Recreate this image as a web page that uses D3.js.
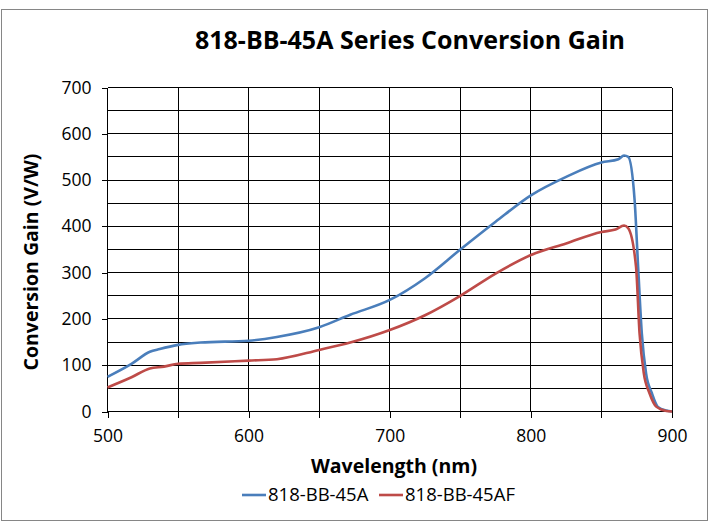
<!DOCTYPE html>
<html>
<head>
<meta charset="utf-8">
<script src="https://cdn.jsdelivr.net/npm/d3@7"></script>
<style>
  body { margin: 0; background: #fff; }
  text { font-family: "Open Sans", sans-serif; fill: #000; }
</style>
</head>
<body>
<div class="js-chart"></div>
<script>
// series 818-BB-45A
let waveA = [500, 517, 530, 537, 550, 566, 600, 620, 650, 672, 700, 725, 750, 775, 800, 825, 850, 862, 866, 869, 873.5, 876, 878.6, 881.6, 885.7, 890, 896, 900];
let gainA = [75, 103, 129, 135, 144, 149, 153, 161, 182, 209, 241, 288, 350, 410, 467, 507, 538, 545, 553, 550, 457, 312, 169, 83, 40, 10, 2, 0];
// series 818-BB-45AF
let waveAF = [500, 517, 530, 540, 550, 566, 600, 620, 650, 672, 700, 725, 750, 775, 800, 825, 850, 860, 866, 869, 874.5, 877, 880, 884, 889, 896, 900];
let gainAF = [52, 74, 93, 97, 103, 105, 110, 113, 133, 149, 176, 208, 250, 298, 338, 363, 388, 393, 402, 396, 313, 169, 83, 40, 10, 1, 0];

let xTicks = [500, 600, 700, 800, 900];
let yTicks = [0, 100, 200, 300, 400, 500, 600, 700];
let seriesNames = ['818-BB-45A', '818-BB-45AF'];
let colors = ['#4a7ebb', '#be4b48'];

function drawChart() {
  var width = 718, height = 522;
  var left = 107.5, right = 672, top = 87.5, bottom = 411.5;

  var svg = d3.select('.js-chart').append('svg')
    .attr('width', width)
    .attr('height', height);

  // outer frame
  svg.append('rect')
    .attr('x', 1.5).attr('y', 9.5)
    .attr('width', 706).attr('height', 511)
    .attr('fill', 'none')
    .attr('stroke', '#868686');

  var x = d3.scaleLinear().domain([500, 900]).range([left, right]);
  var y = d3.scaleLinear().domain([0, 700]).range([bottom, top]);

  // grid every 50
  var grid = svg.append('g').attr('stroke', '#000').attr('stroke-width', 1).attr('shape-rendering', 'crispEdges');
  grid.selectAll('.hg').data(d3.range(50, 701, 50)).enter().append('line')
    .attr('x1', left).attr('x2', right)
    .attr('y1', (d) => y(d)).attr('y2', (d) => y(d));
  grid.selectAll('.vg').data(d3.range(550, 901, 50)).enter().append('line')
    .attr('y1', top).attr('y2', bottom)
    .attr('x1', (d) => x(d)).attr('x2', (d) => x(d));

  // axes
  var xAxis = svg.append('g')
    .attr('transform', `translate(0,${bottom})`)
    .call(d3.axisBottom(x).tickValues(d3.range(500, 901, 50)).tickSize(6).tickFormat((d) => xTicks.includes(d) ? d : ''));
  var yAxis = svg.append('g')
    .attr('transform', `translate(${left},0)`)
    .call(d3.axisLeft(y).tickValues(yTicks).tickSize(6).tickPadding(10));
  [xAxis, yAxis].forEach((a) => {
    a.selectAll('path, line').attr('stroke', '#000').attr('shape-rendering', 'crispEdges');
    a.selectAll('text').style('font-size', '17.5px').style('font-family', '"Open Sans", sans-serif').attr('fill', '#000');
  });
  xAxis.select('.domain').attr('d', `M${left},0H${right}`);
  yAxis.select('.domain').attr('d', `M0,${top}V${bottom}`);
  xAxis.selectAll('text').attr('dy', '1.2em');

  // lines
  var line = d3.line().x((d) => x(d[0])).y((d) => y(d[1])).curve(d3.curveMonotoneX);
  var dataA = waveA.map((w, i) => [w, gainA[i]]);
  var dataAF = waveAF.map((w, i) => [w, gainAF[i]]);
  [dataA, dataAF].forEach((d, i) => {
    svg.append('path')
      .datum(d)
      .attr('d', line)
      .attr('fill', 'none')
      .attr('stroke', colors[i])
      .attr('stroke-width', 2.6)
      .attr('stroke-linejoin', 'round');
  });

  // title and axis labels
  svg.append('text')
    .attr('x', 410).attr('y', 49)
    .attr('text-anchor', 'middle')
    .style('font-size', '25px').style('font-weight', 'bold')
    .text('818-BB-45A Series Conversion Gain');
  svg.append('text')
    .attr('x', 394).attr('y', 473)
    .attr('text-anchor', 'middle')
    .style('font-size', '19.5px').style('font-weight', 'bold')
    .text('Wavelength (nm)');
  svg.append('text')
    .attr('transform', `translate(38,262)rotate(-90)`)
    .attr('text-anchor', 'middle')
    .style('font-size', '19.5px').style('font-weight', 'bold')
    .text('Conversion Gain (V/W)');

  // legend
  var legendX = [242, 379];
  var legend = svg.selectAll('.legend').data(seriesNames).enter().append('g')
    .attr('transform', (d, i) => `translate(${legendX[i]},495)`);
  legend.append('line')
    .attr('x1', 0).attr('x2', 24)
    .attr('stroke', (d, i) => colors[i]).attr('stroke-width', 2.6);
  legend.append('text')
    .attr('x', 26).attr('dy', '0.35em')
    .style('font-size', '18.5px')
    .text((d) => d);
}

drawChart();
</script>
</body>
</html>
